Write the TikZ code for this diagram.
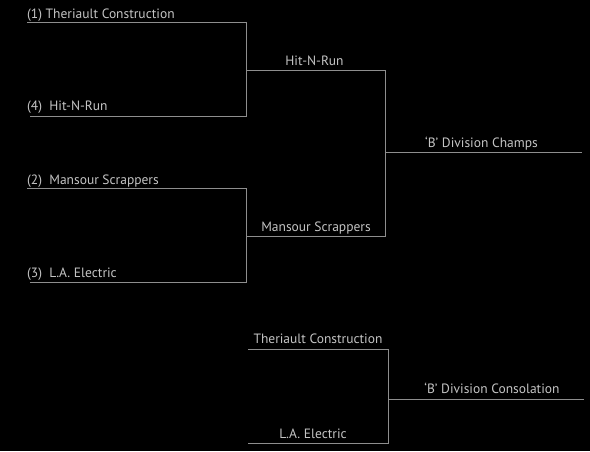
\documentclass[tikz,border=0pt]{standalone}
\usepackage{fontspec}
\setmainfont{PT Sans}
\definecolor{txt}{HTML}{C4C4C4}
\definecolor{ln}{HTML}{8E8E8E}
\begin{document}
\begin{tikzpicture}[x=1pt,y=-1pt,
  lbl/.style={inner sep=0pt,text=txt,font=\fontsize{13.5}{14}\selectfont},
  bline/.style={draw=ln,line width=1pt}]
\useasboundingbox[fill=black] (0,0) rectangle (590,451);
% first round coordinates
\coordinate (a1) at (27,22); \coordinate (a2) at (246,22);
\coordinate (b1) at (30,116); \coordinate (b2) at (246,116);
\coordinate (c1) at (27,188.5); \coordinate (c2) at (246,188.5);
\coordinate (d1) at (30,282); \coordinate (d2) at (246,282);
% second round
\coordinate (e1) at (246,70); \coordinate (e2) at (385,70);
\coordinate (f1) at (246,236); \coordinate (f2) at (385,236);
% final
\coordinate (g1) at (385,152.5); \coordinate (g2) at (582,152.5);
% consolation
\coordinate (h1) at (248,349); \coordinate (h2) at (388,349);
\coordinate (i1) at (248,443); \coordinate (i2) at (388,443);
\coordinate (j1) at (388,399); \coordinate (j2) at (584,399);

\draw[bline] (a1) -- (a2) -- (b2) -- (b1);
\draw[bline] (c1) -- (c2) -- (d2) -- (d1);
\draw[bline] (e1) -- (e2) -- (f2) -- (f1);
\draw[bline] (g1) -- (g2);
\draw[bline] (h1) -- (h2) -- (i2) -- (i1);
\draw[bline] (j1) -- (j2);

\node[lbl,anchor=base west] (t1) at (27,18) {(1) Theriault Construction};
\node[lbl,anchor=base west] (t4) at (27,110.5) {(4)\ \ Hit-N-Run};
\node[lbl,anchor=base west] (t2) at (27,184) {(2)\ \ Mansour Scrappers};
\node[lbl,anchor=base west] (t3) at (27,277) {(3)\ \ L.A. Electric};
\node[lbl,anchor=base] (w1) at (314.5,65.5) {Hit-N-Run};
\node[lbl,anchor=base] (w2) at (316,231) {Mansour Scrappers};
\node[lbl,anchor=base] (ch) at (481.5,147.5) {‘B’ Division Champs};
\node[lbl,anchor=base] (k1) at (318,343) {Theriault Construction};
\node[lbl,anchor=base] (k2) at (313,438) {L.A. Electric};
\node[lbl,anchor=base] (co) at (492,393.5) {‘B’ Division Consolation};
\end{tikzpicture}
\end{document}
